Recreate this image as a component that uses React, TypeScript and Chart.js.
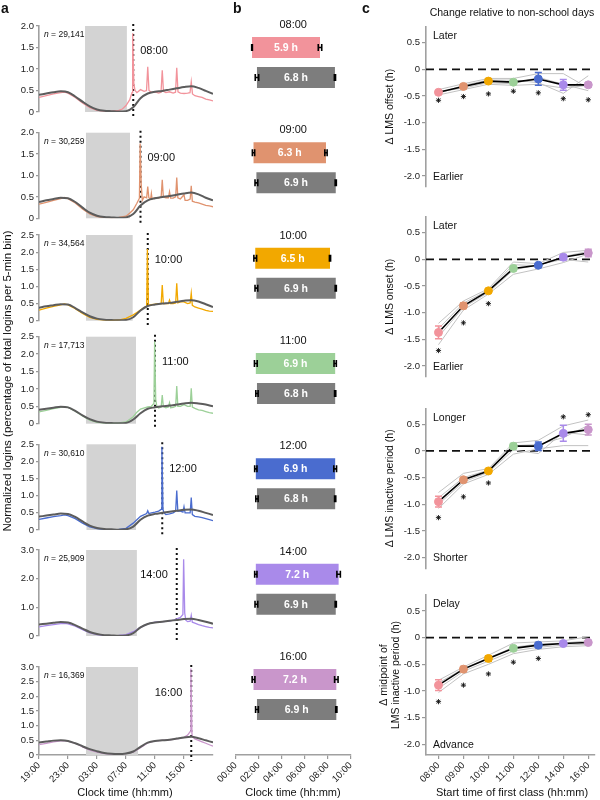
import React, { useEffect, useRef } from "react";
import { Chart, registerables } from "chart.js";
Chart.register(...registerables);

const FONT = "'Liberation Sans', Arial, Helvetica, sans-serif";
Chart.defaults.font.family = FONT;
Chart.defaults.color = "#222";

// ===================== shared categories =====================
const CLASS_LABELS = ["08:00", "09:00", "10:00", "11:00", "12:00", "14:00", "16:00"];
const SERIES_COLORS = ["#F2939B", "#E0936F", "#F2A800", "#9CD098", "#4A6CCF", "#A98AEA", "#C996CB"];

// ===================== panel a data =====================
const CLOCK_TICKS = [19, 23, 27, 31, 35, 39]; // hours on a 19:00 -> 19:00 (+24) axis
const CLASS_HOURS = [32, 33, 34, 35, 36, 38, 40];
const N_USERS = ["29,141", "30,259", "34,564", "17,713", "30,610", "25,909", "16,369"];
const Y_MAX_A = [2, 2, 2.5, 2.5, 2.5, 3, 3];
const SHADE_START = [25.35, 25.48, 25.48, 25.48, 25.55, 25.5, 25.48];
const SHADE_END = [31.12, 31.55, 31.92, 32.38, 32.38, 32.5, 32.66];
const HOUR_GRID = [19, 20, 21, 22, 23, 24, 25, 26, 27, 28, 29, 30, 31, 32, 33, 34, 35, 36, 37, 38, 39, 40, 41, 42, 43];

const NONSCHOOL_08 = [0.40, 0.43, 0.46, 0.48, 0.46, 0.36, 0.24, 0.13, 0.06, 0.03, 0.02, 0.01, 0.02, 0.11, 0.32, 0.43, 0.47, 0.49, 0.52, 0.55, 0.58, 0.60, 0.56, 0.49, 0.42];
const NONSCHOOL_09 = [0.38, 0.42, 0.45, 0.48, 0.47, 0.38, 0.25, 0.13, 0.06, 0.03, 0.02, 0.01, 0.02, 0.10, 0.30, 0.42, 0.47, 0.50, 0.52, 0.55, 0.58, 0.60, 0.56, 0.48, 0.42];
const NONSCHOOL_10 = [0.38, 0.42, 0.45, 0.48, 0.47, 0.37, 0.24, 0.13, 0.06, 0.03, 0.02, 0.01, 0.02, 0.10, 0.30, 0.43, 0.47, 0.50, 0.52, 0.55, 0.58, 0.60, 0.56, 0.48, 0.40];
const NONSCHOOL_11 = [0.40, 0.43, 0.46, 0.49, 0.47, 0.37, 0.24, 0.13, 0.06, 0.03, 0.02, 0.01, 0.02, 0.12, 0.30, 0.43, 0.47, 0.50, 0.52, 0.55, 0.58, 0.60, 0.58, 0.55, 0.50];
const NONSCHOOL_12 = [0.39, 0.42, 0.45, 0.48, 0.47, 0.38, 0.25, 0.13, 0.06, 0.03, 0.02, 0.01, 0.02, 0.10, 0.30, 0.42, 0.47, 0.50, 0.53, 0.56, 0.59, 0.60, 0.56, 0.50, 0.44];
const NONSCHOOL_14 = [0.40, 0.43, 0.46, 0.49, 0.47, 0.38, 0.26, 0.14, 0.07, 0.03, 0.02, 0.01, 0.02, 0.10, 0.30, 0.42, 0.47, 0.50, 0.53, 0.56, 0.59, 0.60, 0.56, 0.50, 0.43];
const NONSCHOOL_16 = [0.43, 0.46, 0.49, 0.50, 0.48, 0.40, 0.30, 0.20, 0.13, 0.07, 0.04, 0.03, 0.05, 0.12, 0.28, 0.42, 0.48, 0.50, 0.52, 0.56, 0.60, 0.62, 0.57, 0.50, 0.43];

const SCHOOL_08 = [[19, 0.34], [20, 0.38], [21, 0.42], [22, 0.45], [22.5, 0.46], [23, 0.44], [24, 0.34], [25, 0.21], [26, 0.1], [27, 0.04], [28, 0.02], [29, 0.02], [30, 0.04], [30.5, 0.07], [31, 0.15], [31.5, 0.28], [31.83, 0.45], [31.92, 1.83], [32.08, 0.66], [32.25, 0.5], [32.5, 0.45], [33, 0.52], [33.5, 0.48], [33.83, 0.5], [34, 1.05], [34.17, 0.5], [34.5, 0.46], [35, 0.47], [35.5, 0.44], [35.83, 0.46], [36, 0.97], [36.17, 0.48], [36.5, 0.45], [37, 0.47], [37.5, 0.44], [37.83, 0.46], [38, 1.03], [38.17, 0.47], [38.5, 0.44], [39, 0.43], [39.5, 0.44], [39.83, 0.45], [40, 0.7], [40.17, 0.42], [40.5, 0.38], [41, 0.36], [41.5, 0.34], [42, 0.3], [42.5, 0.28], [43, 0.26]];
const SCHOOL_09 = [[19, 0.33], [20, 0.37], [21, 0.42], [22, 0.46], [22.5, 0.49], [23, 0.46], [24, 0.36], [25, 0.22], [26, 0.1], [27, 0.04], [28, 0.02], [29, 0.01], [30, 0.02], [31, 0.05], [31.5, 0.12], [32, 0.2], [32.5, 0.35], [32.85, 0.47], [32.95, 1.75], [33.1, 0.8], [33.25, 0.42], [33.5, 0.5], [33.85, 0.48], [34, 0.74], [34.15, 0.48], [34.4, 0.45], [34.5, 0.58], [34.6, 0.45], [35, 0.48], [35.5, 0.47], [35.85, 0.5], [36, 0.9], [36.15, 0.5], [36.5, 0.48], [36.85, 0.48], [37, 0.62], [37.15, 0.47], [37.5, 0.47], [37.85, 0.5], [38, 0.95], [38.15, 0.48], [38.5, 0.45], [39, 0.55], [39.15, 0.42], [39.5, 0.42], [39.85, 0.45], [40, 0.76], [40.15, 0.4], [40.5, 0.38], [41, 0.36], [41.5, 0.33], [42, 0.3], [42.5, 0.29], [43, 0.27]];
const SCHOOL_10 = [[19, 0.31], [20, 0.37], [21, 0.42], [22, 0.46], [22.5, 0.49], [23, 0.46], [24, 0.35], [25, 0.21], [26, 0.1], [27, 0.04], [28, 0.02], [29, 0.01], [30, 0.02], [31, 0.07], [32, 0.17], [32.5, 0.24], [33, 0.31], [33.5, 0.38], [33.85, 0.42], [33.95, 2.09], [34.1, 0.45], [34.5, 0.47], [35, 0.48], [35.5, 0.5], [35.85, 0.5], [36, 1.04], [36.15, 0.5], [36.5, 0.5], [36.85, 0.5], [37, 0.6], [37.15, 0.5], [37.5, 0.5], [37.85, 0.52], [38, 1.09], [38.15, 0.52], [38.5, 0.55], [39, 0.55], [39.5, 0.5], [39.85, 0.52], [40, 0.8], [40.15, 0.45], [40.5, 0.4], [41, 0.37], [41.5, 0.34], [42, 0.3], [42.5, 0.28], [43, 0.27]];
const SCHOOL_11 = [[19, 0.34], [20, 0.38], [21, 0.43], [22, 0.47], [22.5, 0.49], [23, 0.47], [24, 0.36], [25, 0.22], [26, 0.1], [27, 0.04], [28, 0.02], [29, 0.01], [30, 0.02], [31, 0.05], [32, 0.2], [32.5, 0.33], [33, 0.42], [34, 0.48], [34.5, 0.5], [34.85, 0.58], [34.95, 2.36], [35.1, 0.7], [35.25, 0.5], [35.5, 0.45], [35.85, 0.48], [36, 0.82], [36.15, 0.5], [36.5, 0.46], [36.85, 0.48], [37, 0.6], [37.15, 0.46], [37.5, 0.47], [37.85, 0.5], [38, 1.08], [38.15, 0.5], [38.5, 0.5], [39, 0.55], [39.5, 0.5], [39.85, 0.5], [40, 1.02], [40.15, 0.48], [40.5, 0.44], [41, 0.4], [41.5, 0.38], [42, 0.35], [42.5, 0.32], [43, 0.3]];
const SCHOOL_12 = [[19, 0.31], [20, 0.35], [21, 0.39], [22, 0.42], [22.5, 0.44], [23, 0.42], [24, 0.33], [25, 0.2], [26, 0.09], [27, 0.04], [28, 0.02], [29, 0.01], [30, 0.02], [31, 0.05], [32, 0.2], [32.5, 0.3], [33, 0.4], [33.85, 0.48], [34, 0.56], [34.15, 0.48], [34.5, 0.5], [35, 0.52], [35.5, 0.55], [35.85, 0.6], [35.95, 2.43], [36.1, 0.6], [36.25, 0.5], [36.5, 0.45], [37, 0.47], [37.5, 0.5], [37.85, 0.55], [38, 1.15], [38.15, 0.55], [38.5, 0.55], [38.85, 0.52], [39, 0.68], [39.15, 0.5], [39.5, 0.5], [39.85, 0.5], [40, 0.95], [40.15, 0.45], [40.5, 0.4], [41, 0.38], [41.5, 0.36], [42, 0.33], [42.5, 0.3], [43, 0.27]];
const SCHOOL_14 = [[19, 0.32], [20, 0.36], [21, 0.4], [22, 0.43], [22.5, 0.44], [23, 0.42], [24, 0.34], [25, 0.22], [26, 0.11], [27, 0.05], [28, 0.02], [29, 0.01], [30, 0.02], [31, 0.05], [32, 0.15], [33, 0.3], [34, 0.42], [35, 0.48], [36, 0.5], [37, 0.52], [37.5, 0.55], [38, 0.6], [38.5, 0.65], [38.85, 0.75], [38.95, 2.68], [39.1, 0.8], [39.25, 0.55], [39.5, 0.5], [39.85, 0.52], [40, 0.72], [40.15, 0.48], [40.5, 0.45], [41, 0.4], [41.5, 0.36], [42, 0.33], [42.5, 0.3], [43, 0.28]];
const SCHOOL_16 = [[19, 0.35], [20, 0.4], [21, 0.45], [22, 0.48], [22.5, 0.49], [23, 0.47], [24, 0.4], [25, 0.28], [26, 0.17], [27, 0.1], [28, 0.05], [29, 0.03], [30, 0.03], [31, 0.05], [32, 0.1], [33, 0.25], [34, 0.41], [35, 0.48], [36, 0.5], [37, 0.52], [38, 0.55], [39, 0.6], [39.5, 0.68], [39.85, 0.8], [39.95, 2.95], [40.1, 0.7], [40.25, 0.6], [40.5, 0.55], [41, 0.5], [41.5, 0.45], [42, 0.4], [42.5, 0.35], [43, 0.3]];

const NONSCHOOL = [NONSCHOOL_08, NONSCHOOL_09, NONSCHOOL_10, NONSCHOOL_11, NONSCHOOL_12, NONSCHOOL_14, NONSCHOOL_16];
const SCHOOL = [SCHOOL_08, SCHOOL_09, SCHOOL_10, SCHOOL_11, SCHOOL_12, SCHOOL_14, SCHOOL_16];

// ===================== panel b data (hours after midnight) =====================
const SCHOOL_ONSET = [1.42, 1.55, 1.7, 1.75, 1.75, 1.75, 1.55];
const SCHOOL_OFFSET = [7.33, 7.85, 8.2, 8.65, 8.65, 8.95, 8.75];
const FREE_ONSET = [1.85, 1.8, 1.8, 1.85, 1.85, 1.8, 1.85];
const FREE_OFFSET = [8.63, 8.7, 8.7, 8.65, 8.65, 8.7, 8.75];
const SCHOOL_ONSET_ERR = [0.03, 0.1, 0.12, 0.12, 0.1, 0.1, 0.12];
const SCHOOL_OFFSET_ERR = [0.15, 0.1, 0.05, 0.1, 0.12, 0.15, 0.15];
const FREE_ONSET_ERR = [0.15, 0.12, 0.12, 0.1, 0.1, 0.12, 0.12];
const FREE_OFFSET_ERR = [0.05, 0.05, 0.05, 0.05, 0.05, 0.05, 0.05];
const SCHOOL_DURATION = ["5.9 h", "6.3 h", "6.5 h", "6.9 h", "6.9 h", "7.2 h", "7.2 h"];
const FREE_DURATION = ["6.8 h", "6.9 h", "6.9 h", "6.8 h", "6.8 h", "6.9 h", "6.9 h"];
const B_TICKS = [0, 2, 4, 6, 8, 10];

// ===================== panel c data =====================
const OFFSET_MEAN = [-0.43, -0.32, -0.22, -0.24, -0.18, -0.29, -0.29];
const OFFSET_ERR = [0.03, 0.04, 0.04, 0.04, 0.12, 0.1, 0.04];
const OFFSET_STARS = [-0.58, -0.51, -0.46, -0.41, -0.44, -0.55, -0.57];
const OFFSET_GRAY = [
  [-0.38, -0.27, -0.17, -0.17, -0.08, -0.08, -0.35],
  [-0.45, -0.30, -0.20, -0.20, -0.25, -0.45, -0.12],
  [-0.48, -0.38, -0.28, -0.30, -0.28, -0.35, -0.30],
  [-0.42, -0.35, -0.25, -0.27, -0.15, -0.28, -0.40],
];
const ONSET_MEAN = [-1.37, -0.87, -0.59, -0.17, -0.11, 0.04, 0.12];
const ONSET_ERR = [0.12, 0.05, 0.03, 0.04, 0.03, 0.05, 0.07];
const ONSET_STARS = [-1.71, -1.19, -0.83, null, null, null, null];
const ONSET_GRAY = [
  [-1.2, -0.78, -0.55, -0.05, -0.08, 0.13, 0.17],
  [-1.3, -0.82, -0.58, -0.1, -0.12, 0.05, 0.15],
  [-1.45, -0.9, -0.62, -0.2, -0.1, 0.0, -0.05],
  [-1.6, -0.95, -0.65, -0.28, -0.18, -0.06, 0.1],
];
const PERIOD_MEAN = [-0.95, -0.54, -0.375, 0.09, 0.09, 0.33, 0.4];
const PERIOD_ERR = [0.1, 0.04, 0.02, 0.05, 0.08, 0.15, 0.1];
const PERIOD_STARS = [-1.25, -0.86, -0.6, null, null, 0.64, 0.68];
const PERIOD_GRAY = [
  [-0.78, -0.42, -0.33, 0.15, 0.2, 0.47, 0.58],
  [-0.88, -0.5, -0.36, 0.1, 0.12, 0.25, 0.48],
  [-1.0, -0.58, -0.4, 0.02, -0.05, 0.35, 0.3],
  [-1.08, -0.62, -0.44, -0.06, 0.04, 0.1, 0.1],
];
const MID_MEAN = [-0.89, -0.59, -0.39, -0.2, -0.14, -0.11, -0.09];
const MID_ERR = [0.1, 0.05, 0.05, 0.04, 0.05, 0.03, 0.03];
const MID_STARS = [-1.2, -0.89, -0.68, -0.46, -0.39, null, null];
const MID_GRAY = [
  [-0.8, -0.55, -0.33, -0.1, -0.08, -0.06, 0.02],
  [-0.85, -0.58, -0.38, -0.18, -0.12, -0.1, -0.06],
  [-0.95, -0.63, -0.44, -0.25, -0.18, -0.14, -0.12],
  [-1.03, -0.68, -0.5, -0.3, -0.22, -0.17, -0.15],
];
const C_Y_TICKS = [-2, -1.5, -1, -0.5, 0, 0.5];

const C_SETS = [
  { mean: OFFSET_MEAN, err: OFFSET_ERR, stars: OFFSET_STARS, grays: OFFSET_GRAY, title: ["Δ LMS offset (h)"], hi: "Later", lo: "Earlier" },
  { mean: ONSET_MEAN, err: ONSET_ERR, stars: ONSET_STARS, grays: ONSET_GRAY, title: ["Δ LMS onset (h)"], hi: "Later", lo: "Earlier" },
  { mean: PERIOD_MEAN, err: PERIOD_ERR, stars: PERIOD_STARS, grays: PERIOD_GRAY, title: ["Δ LMS inactive period (h)"], hi: "Longer", lo: "Shorter" },
  { mean: MID_MEAN, err: MID_ERR, stars: MID_STARS, grays: MID_GRAY, title: ["Δ midpoint of", "LMS inactive period (h)"], hi: "Delay", lo: "Advance" },
];

// ===================== layout (pixels) =====================
const A_TOP = [26, 132.7, 235, 336.7, 444.3, 550, 667];
const A_BOTTOM = [112, 218.3, 320.7, 423.7, 530, 636, 755];
const A_LABEL_LEFT = [false, false, false, false, false, true, true];
const C_TOP = [26.7, 216.7, 408.3, 595];
const C_BOTTOM = [186.7, 376.7, 568.3, 755];
const A_YTITLE_CENTER = 381;

const fmtClock = (v: number) => String(((v % 24) + 24) % 24).padStart(2, "0") + ":00";
const fmtNum = (v: number) => (v === 0 ? "0" : v.toFixed(1));

// ===================== plugins =====================
const panelAPlugin = {
  id: "panelA",
  beforeDatasetsDraw(chart: any, _a: any, opts: any) {
    const i = opts.i;
    const { ctx, chartArea } = chart;
    const x = chart.scales.x;
    ctx.save();
    ctx.fillStyle = "#d3d3d3";
    const x0 = x.getPixelForValue(SHADE_START[i]);
    const x1 = x.getPixelForValue(SHADE_END[i]);
    ctx.fillRect(x0, chartArea.top, x1 - x0, chartArea.bottom - chartArea.top);
    const xc = x.getPixelForValue(CLASS_HOURS[i]);
    ctx.strokeStyle = "#111";
    ctx.lineWidth = 2;
    ctx.setLineDash([2, 3]);
    ctx.beginPath();
    ctx.moveTo(xc, chartArea.top - 2);
    ctx.lineTo(xc, chartArea.bottom + 6);
    ctx.stroke();
    ctx.restore();
  },
  afterDatasetsDraw(chart: any, _a: any, opts: any) {
    const i = opts.i;
    const { ctx, chartArea } = chart;
    const x = chart.scales.x;
    ctx.save();
    ctx.fillStyle = "#111";
    ctx.textBaseline = "middle";
    ctx.textAlign = "left";
    const ny = chartArea.top + 9;
    ctx.font = `italic 8.5px ${FONT}`;
    ctx.fillText("n", chartArea.left + 5, ny);
    const w = ctx.measureText("n").width;
    ctx.font = `8.5px ${FONT}`;
    ctx.fillText(" = " + N_USERS[i], chartArea.left + 5 + w, ny);
    const xc = x.getPixelForValue(CLASS_HOURS[i]);
    ctx.font = `11px ${FONT}`;
    const ly = chartArea.top + 0.29 * (chartArea.bottom - chartArea.top);
    if (A_LABEL_LEFT[i]) {
      ctx.textAlign = "right";
      ctx.fillText(CLASS_LABELS[i], xc - 9, ly);
    } else {
      ctx.textAlign = "left";
      ctx.fillText(CLASS_LABELS[i], xc + 7, ly);
    }
    if (opts.yTitleAt != null) {
      // shared y-axis title for the whole panel a column
      ctx.fillStyle = "#111";
      ctx.font = `11.5px ${FONT}`;
      ctx.textAlign = "center";
      ctx.translate(8, opts.yTitleAt);
      ctx.rotate(-Math.PI / 2);
      ctx.fillText("Normalized logins (percentage of total logins per 5-min bin)", 0, 0);
    }
    ctx.restore();
  },
};

const panelBPlugin = {
  id: "panelB",
  afterDatasetsDraw(chart: any) {
    const { ctx, chartArea } = chart;
    const x = chart.scales.x;
    const y = chart.scales.y;
    ctx.save();
    ctx.fillStyle = "#111";
    ctx.textAlign = "center";
    ctx.textBaseline = "middle";
    ctx.font = `11px ${FONT}`;
    const cx = (chartArea.left + chartArea.right) / 2;
    CLASS_LABELS.forEach((lab, k) => ctx.fillText(lab, cx, y.getPixelForValue(k) - 37.5));
    const sets = [
      { on: SCHOOL_ONSET, off: SCHOOL_OFFSET, eOn: SCHOOL_ONSET_ERR, eOff: SCHOOL_OFFSET_ERR, lab: SCHOOL_DURATION },
      { on: FREE_ONSET, off: FREE_OFFSET, eOn: FREE_ONSET_ERR, eOff: FREE_OFFSET_ERR, lab: FREE_DURATION },
    ];
    sets.forEach((s, d) => {
      const meta = chart.getDatasetMeta(d);
      meta.data.forEach((bar: any, k: number) => {
        const p = bar.getProps(["x", "base", "y"], true);
        ctx.fillStyle = "#fff";
        ctx.font = `bold 10.5px ${FONT}`;
        ctx.fillText(s.lab[k], (p.x + p.base) / 2, p.y + 0.5);
        ctx.strokeStyle = "#000";
        ctx.lineWidth = 1.6;
        const errs = [[s.on[k], s.eOn[k]], [s.off[k], s.eOff[k]]];
        errs.forEach(([v, e]) => {
          const a = x.getPixelForValue(v - e);
          const b = x.getPixelForValue(v + e);
          ctx.beginPath();
          ctx.moveTo(a, p.y); ctx.lineTo(b, p.y);
          ctx.moveTo(a, p.y - 3.5); ctx.lineTo(a, p.y + 3.5);
          ctx.moveTo(b, p.y - 3.5); ctx.lineTo(b, p.y + 3.5);
          ctx.stroke();
        });
      });
    });
    ctx.restore();
  },
};

const panelCPlugin = {
  id: "panelC",
  beforeDatasetsDraw(chart: any) {
    const { ctx, chartArea } = chart;
    const y0 = chart.scales.y.getPixelForValue(0);
    ctx.save();
    ctx.strokeStyle = "#111";
    ctx.lineWidth = 1.8;
    ctx.setLineDash([8, 5]);
    ctx.beginPath();
    ctx.moveTo(chartArea.left, y0);
    ctx.lineTo(chartArea.right, y0);
    ctx.stroke();
    ctx.restore();
  },
  afterDatasetsDraw(chart: any, _a: any, opts: any) {
    const set = C_SETS[opts.k];
    const { ctx, chartArea } = chart;
    const y = chart.scales.y;
    ctx.save();
    const meta = chart.getDatasetMeta(0);
    meta.data.forEach((pt: any, j: number) => {
      const ya = y.getPixelForValue(set.mean[j] - set.err[j]);
      const yb = y.getPixelForValue(set.mean[j] + set.err[j]);
      ctx.strokeStyle = SERIES_COLORS[j];
      ctx.lineWidth = 1.5;
      ctx.beginPath();
      ctx.moveTo(pt.x, ya); ctx.lineTo(pt.x, yb);
      ctx.moveTo(pt.x - 3.5, ya); ctx.lineTo(pt.x + 3.5, ya);
      ctx.moveTo(pt.x - 3.5, yb); ctx.lineTo(pt.x + 3.5, yb);
      ctx.stroke();
    });
    ctx.fillStyle = "#111";
    ctx.font = `10.5px ${FONT}`;
    ctx.textAlign = "left";
    ctx.textBaseline = "middle";
    ctx.fillText(set.hi, chartArea.left + 7, chartArea.top + 9.5);
    ctx.fillText(set.lo, chartArea.left + 7, chartArea.bottom - 10);
    const midY = (chartArea.top + chartArea.bottom) / 2;
    const xs = set.title.length === 1 ? [20] : [14, 26];
    set.title.forEach((line, li) => {
      ctx.save();
      ctx.translate(xs[li], midY);
      ctx.rotate(-Math.PI / 2);
      ctx.textAlign = "center";
      ctx.fillText(line, 0, 0);
      ctx.restore();
    });
    ctx.restore();
  },
};

// ===================== configs =====================
const axisGrid = { drawOnChartArea: false, tickLength: 4, color: "#999", lineWidth: 1.2 };
const axisBorder = { color: "#a0a0a0", width: 1.6 };

function panelAConfig(i: number, padTop: number, padBottom: number, last: boolean, yTitleAt: number | null): any {
  const yTicks: number[] = [];
  for (let v = 0; v <= Y_MAX_A[i] + 1e-9; v += 0.5) yTicks.push(v);
  const xAxis: any = {
    type: "linear",
    min: 19,
    max: 43,
    display: last,
    afterBuildTicks: (s: any) => { s.ticks = CLOCK_TICKS.map((v) => ({ value: v })); },
    ticks: { callback: (v: any) => fmtClock(Number(v)), maxRotation: 45, minRotation: 45, font: { size: 9.5 }, padding: 1, color: "#222" },
    grid: axisGrid,
    border: axisBorder,
  };
  if (last) xAxis.afterFit = (s: any) => { s.height = 42; };
  return {
    type: "line",
    data: {
      datasets: [
        {
          data: HOUR_GRID.map((t, k) => ({ x: t, y: NONSCHOOL[i][k] })),
          borderColor: "#5c5c5c",
          borderWidth: 2,
          pointRadius: 0,
          cubicInterpolationMode: "monotone",
        },
        {
          data: SCHOOL[i].map(([t, v]) => ({ x: t, y: v })),
          borderColor: SERIES_COLORS[i],
          borderWidth: 1.3,
          pointRadius: 0,
          tension: 0,
        },
      ],
    },
    options: {
      animation: false,
      responsive: false,
      events: [],
      layout: { padding: { left: 0, right: 12, top: padTop, bottom: padBottom } },
      plugins: { legend: { display: false }, tooltip: { enabled: false }, panelA: { i, yTitleAt } },
      scales: {
        x: xAxis,
        y: {
          min: 0,
          max: Y_MAX_A[i],
          afterBuildTicks: (s: any) => { s.ticks = yTicks.map((v) => ({ value: v })); },
          afterFit: (s: any) => { s.width = 39; },
          ticks: { callback: (v: any) => fmtNum(Number(v)), font: { size: 9.5 }, padding: 2, color: "#222" },
          grid: { ...axisGrid, tickLength: 3 },
          border: axisBorder,
        },
      },
    },
    plugins: [panelAPlugin],
  };
}

function panelBConfig(): any {
  return {
    type: "bar",
    data: {
      datasets: [
        {
          data: SCHOOL_ONSET.map((o, k) => ({ x: [o, SCHOOL_OFFSET[k]], y: k })),
          backgroundColor: SERIES_COLORS,
          categoryPercentage: 0.57,
          barPercentage: 0.7,
        },
        {
          data: FREE_ONSET.map((o, k) => ({ x: [o, FREE_OFFSET[k]], y: k })),
          backgroundColor: "#7d7d7d",
          categoryPercentage: 0.57,
          barPercentage: 0.7,
        },
      ],
    },
    options: {
      indexAxis: "y",
      animation: false,
      responsive: false,
      events: [],
      layout: { padding: { left: 30.7, right: 14.3, top: 9.8, bottom: 5 } },
      plugins: { legend: { display: false }, tooltip: { enabled: false } },
      scales: {
        y: {
          type: "linear", reverse: true, min: -0.5, max: 6.574, offset: false, display: false,
          afterBuildTicks: (s: any) => { s.ticks = CLASS_LABELS.map((_, k) => ({ value: k })); },
        },
        x: {
          type: "linear",
          min: 0,
          max: 10,
          afterBuildTicks: (s: any) => { s.ticks = B_TICKS.map((v) => ({ value: v })); },
          afterFit: (s: any) => { s.height = 40; },
          ticks: { callback: (v: any) => fmtClock(Number(v)), maxRotation: 45, minRotation: 45, font: { size: 9.5 }, padding: 1, color: "#222" },
          grid: axisGrid,
          border: axisBorder,
        },
      },
    },
    plugins: [panelBPlugin],
  };
}

function panelCConfig(k: number, padTop: number, padBottom: number, last: boolean): any {
  const set = C_SETS[k];
  const xAxis: any = {
    type: "linear",
    min: -0.5,
    max: 6.27,
    display: last,
    afterBuildTicks: (s: any) => { s.ticks = CLASS_LABELS.map((_, j) => ({ value: j })); },
    ticks: { callback: (v: any) => CLASS_LABELS[Number(v)] ?? "", maxRotation: 45, minRotation: 45, font: { size: 9.5 }, padding: 1, color: "#222" },
    grid: axisGrid,
    border: axisBorder,
  };
  if (last) xAxis.afterFit = (s: any) => { s.height = 40; };
  return {
    type: "line",
    data: {
      datasets: [
        {
          data: set.mean.map((v, j) => ({ x: j, y: v })),
          borderColor: "#000",
          borderWidth: 1.6,
          pointRadius: 4,
          pointBackgroundColor: SERIES_COLORS,
          pointBorderColor: SERIES_COLORS,
          pointBorderWidth: 1,
          tension: 0,
        },
        {
          data: set.stars.map((v, j) => ({ x: j, y: v })),
          showLine: false,
          pointStyle: "star",
          pointRadius: 2.6,
          borderColor: "#111",
          pointBorderWidth: 0.9,
        },
        ...set.grays.map((g) => ({
          data: g.map((v, j) => ({ x: j, y: v })),
          borderColor: "#c2c2c2",
          borderWidth: 1,
          pointRadius: 0,
          tension: 0,
        })),
      ],
    },
    options: {
      animation: false,
      responsive: false,
      events: [],
      layout: { padding: { left: 0, right: 0, top: padTop, bottom: padBottom } },
      plugins: { legend: { display: false }, tooltip: { enabled: false }, panelC: { k } },
      scales: {
        x: xAxis,
        y: {
          min: -2.2,
          max: 0.8,
          afterBuildTicks: (s: any) => { s.ticks = C_Y_TICKS.map((v) => ({ value: v })); },
          afterFit: (s: any) => { s.width = 56; },
          ticks: { callback: (v: any) => fmtNum(Number(v)), font: { size: 9.5 }, padding: 2, color: "#222" },
          grid: axisGrid,
          border: axisBorder,
        },
      },
    },
    plugins: [panelCPlugin],
  };
}

// ===================== components =====================
function ChartCanvas({ left, top, width, height, make }: any) {
  const ref = useRef<HTMLCanvasElement>(null);
  useEffect(() => {
    const chart = new Chart(ref.current as HTMLCanvasElement, make());
    return () => chart.destroy();
  }, []);
  return (
    <canvas
      ref={ref}
      width={width}
      height={height}
      style={{ position: "absolute", left, top, width, height, display: "block" }}
    />
  );
}

function Txt({ x, y, children, size = 11, bold = false, anchor = "center" }: any) {
  const tx = anchor === "center" ? "-50%" : "0";
  return (
    <div
      style={{
        position: "absolute",
        left: x,
        top: y,
        transform: `translate(${tx}, -50%)`,
        fontFamily: FONT,
        fontSize: size,
        fontWeight: bold ? 700 : 400,
        whiteSpace: "nowrap",
        color: "#111",
        lineHeight: 1,
      }}
    >
      {children}
    </div>
  );
}

export default function App() {
  const aCharts = A_TOP.map((T, i) => {
    const last = i === A_TOP.length - 1;
    const first = i === 0;
    const B = A_BOTTOM[i];
    // first canvas spans the whole column height so it can also host the shared y-axis title
    const canvasTop = first ? 0 : Math.floor(T) - 8;
    const padTop = T - canvasTop;
    const axisH = 42;
    const height = first ? 800 : last ? Math.ceil(B) + axisH + 2 - canvasTop : Math.ceil(B) + 8 - canvasTop;
    const padBottom = last ? height - axisH - (B - canvasTop) : height - (B - canvasTop);
    return (
      <ChartCanvas key={"a" + i} left={0} top={canvasTop} width={225} height={height}
        make={() => panelAConfig(i, padTop, padBottom, last, first ? A_YTITLE_CENTER : null)} />
    );
  });
  const cCharts = C_TOP.map((T, k) => {
    const last = k === C_TOP.length - 1;
    const B = C_BOTTOM[k];
    const canvasTop = Math.floor(T) - 8;
    const padTop = T - canvasTop;
    const axisH = 40;
    const height = last ? Math.ceil(B) + axisH + 2 - canvasTop : Math.ceil(B) + 8 - canvasTop;
    const padBottom = last ? height - axisH - (B - canvasTop) : height - (B - canvasTop);
    return (
      <ChartCanvas key={"c" + k} left={370} top={canvasTop} width={230} height={height}
        make={() => panelCConfig(k, padTop, padBottom, last)} />
    );
  });
  return (
    <div style={{ position: "absolute", left: 0, top: 0, width: 600, height: 800, background: "#fff", overflow: "hidden" }}>
      {aCharts}
      <ChartCanvas left={205} top={0} width={160} height={800} make={panelBConfig} />
      {cCharts}
      <Txt x={1} y={8} size={14} bold anchor="left">a</Txt>
      <Txt x={233} y={8} size={14} bold anchor="left">b</Txt>
      <Txt x={362} y={8} size={14} bold anchor="left">c</Txt>
      <Txt x={512} y={12} size={10.5}>Change relative to non-school days</Txt>
      <Txt x={125} y={792} size={11}>Clock time (hh:mm)</Txt>
      <Txt x={293} y={792} size={11}>Clock time (hh:mm)</Txt>
      <Txt x={512} y={792} size={11}>Start time of first class (hh:mm)</Txt>
    </div>
  );
}
